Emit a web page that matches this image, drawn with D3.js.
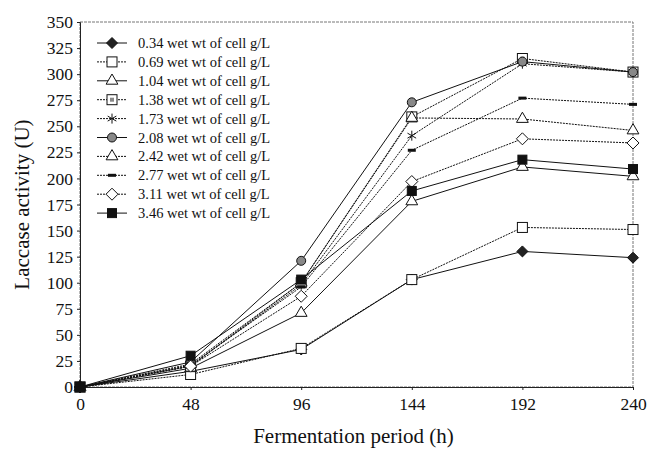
<!DOCTYPE html>
<html><head><meta charset="utf-8">
<script src="https://cdn.jsdelivr.net/npm/d3@7"></script>
<style>body{margin:0;background:#fff}svg{display:block}</style>
</head><body><svg id="c" width="649" height="452"></svg>
<script>
const hours = [0, 48, 96, 144, 192, 240];
const xTicks = [0, 48, 96, 144, 192, 240];
const yTicks = [0, 25, 50, 75, 100, 125, 150, 175, 200, 225, 250, 275, 300, 325, 350];
const seriesNames = ["0.34 wet wt of cell g/L","0.69 wet wt of cell g/L","1.04 wet wt of cell g/L","1.38 wet wt of cell g/L","1.73 wet wt of cell g/L","2.08 wet wt of cell g/L","2.42 wet wt of cell g/L","2.77 wet wt of cell g/L","3.11 wet wt of cell g/L","3.46 wet wt of cell g/L"];
const s034 = [0, 15, 36, 103, 130, 124];
const s069 = [0, 12, 37, 103, 153, 151];
const s104 = [0, 18, 71, 178, 211, 202];
const s138 = [0, 20, 100, 259, 315, 302];
const s173 = [0, 20, 98, 241, 310, 302];
const s208 = [0, 24, 121, 273, 312, 302];
const s242 = [0, 22, 100, 258, 257, 246];
const s277 = [0, 21, 96, 227, 277, 271];
const s311 = [0, 20, 87, 197, 238, 234];
const s346 = [0, 30, 103, 188, 218, 209];
const seriesValues = [s034, s069, s104, s138, s173, s208, s242, s277, s311, s346];
const markers = ["fdiamond","osquare","otriangle","osquare2","star","circle","otriangle","bar","odiamond","fsquare"];
const dashes = [null,"2,1",null,"2,1","2,1",null,"2,1","2,1","2,1",null];

const svg = d3.select("#c");
const L = 80, R = 633, T = 22, B = 387;
const x = d3.scaleLinear().domain([0, 240]).range([L, R]);
const y = d3.scaleLinear().domain([0, 350]).range([B, T]);
const font = "'Liberation Serif','Times New Roman',serif";

svg.append("rect").attr("x", L).attr("y", T).attr("width", R - L).attr("height", B - T)
  .attr("fill", "none").attr("stroke", "#777").attr("stroke-width", 1).attr("stroke-dasharray", "3,1");

const yAx = svg.append("g").attr("transform", `translate(${L},0)`)
  .call(d3.axisLeft(y).tickValues(yTicks).tickSize(3).tickPadding(4));
const xAx = svg.append("g").attr("transform", `translate(0,${B})`)
  .call(d3.axisBottom(x).tickValues(xTicks).tickSize(3).tickPadding(8));
[yAx, xAx].forEach(g => {
  g.selectAll("path").attr("stroke", "#222");
  g.selectAll("line").attr("stroke", "#222");
  g.selectAll("text").attr("font-family", font).attr("font-size", 17.5).attr("fill", "#111");
});

svg.append("text").attr("x", (L + R) / 2 - 3).attr("y", 443).attr("text-anchor", "middle")
  .attr("font-family", font).attr("font-size", 21).attr("fill", "#111").text("Fermentation period (h)");
svg.append("text").attr("transform", `translate(29,${(T + B) / 2}) rotate(-90)`).attr("text-anchor", "middle")
  .attr("font-family", font).attr("font-size", 21).attr("fill", "#111").text("Laccase activity (U)");

function diamondPath(r) { return `M0,${-r}L${r},0L0,${r}L${-r},0Z`; }
function drawMarker(g, type, cx, cy) {
  const k = "#111";
  switch (type) {
    case "fdiamond": g.append("path").attr("d", diamondPath(5.5)).attr("transform", `translate(${cx},${cy})`).attr("fill", "#222").attr("stroke", k); break;
    case "odiamond": g.append("path").attr("d", diamondPath(6)).attr("transform", `translate(${cx},${cy})`).attr("fill", "#fff").attr("stroke", k); break;
    case "osquare": g.append("rect").attr("x", cx - 5).attr("y", cy - 5).attr("width", 10).attr("height", 10).attr("fill", "#fff").attr("stroke", k); break;
    case "osquare2": g.append("rect").attr("x", cx - 5).attr("y", cy - 5).attr("width", 10).attr("height", 10).attr("fill", "#fff").attr("stroke", k);
      g.append("rect").attr("x", cx - 2).attr("y", cy - 2).attr("width", 4).attr("height", 4).attr("fill", "#888"); break;
    case "otriangle": g.append("path").attr("d", d3.symbol(d3.symbolTriangle, 60)()).attr("transform", `translate(${cx},${cy})`).attr("fill", "#fff").attr("stroke", k); break;
    case "star": g.append("path").attr("d", d3.symbol(d3.symbolAsterisk, 70)()).attr("transform", `translate(${cx},${cy})`).attr("fill", "none").attr("stroke", k); break;
    case "circle": g.append("circle").attr("cx", cx).attr("cy", cy).attr("r", 4.5).attr("fill", "#888").attr("stroke", k); break;
    case "bar": g.append("rect").attr("x", cx - 4).attr("y", cy - 1.5).attr("width", 8).attr("height", 3).attr("fill", k); break;
    case "fsquare": g.append("rect").attr("x", cx - 4.5).attr("y", cy - 4.5).attr("width", 9).attr("height", 9).attr("fill", "#111").attr("stroke", k); break;
  }
}

const line = d3.line().x((d, i) => x(hours[i])).y(d => y(d));
seriesValues.forEach((vals, si) => {
  svg.append("path").attr("d", line(vals)).attr("fill", "none").attr("stroke", "#111")
    .attr("stroke-width", 1).attr("stroke-dasharray", dashes[si]);
});
seriesValues.forEach((vals, si) => {
  const g = svg.append("g");
  vals.forEach((v, i) => drawMarker(g, markers[si], x(hours[i]), y(v)));
});

const lg = svg.append("g");
seriesNames.forEach((n, i) => {
  const ly = 43 + i * 18.9;
  lg.append("line").attr("x1", 97).attr("x2", 127).attr("y1", ly).attr("y2", ly)
    .attr("stroke", "#111").attr("stroke-dasharray", dashes[i]);
  drawMarker(lg, markers[i], 112, ly);
  lg.append("text").attr("x", 138).attr("y", ly + 5).attr("font-family", font).attr("font-size", 14.5)
    .attr("fill", "#111").text(n);
});
</script></body></html>
